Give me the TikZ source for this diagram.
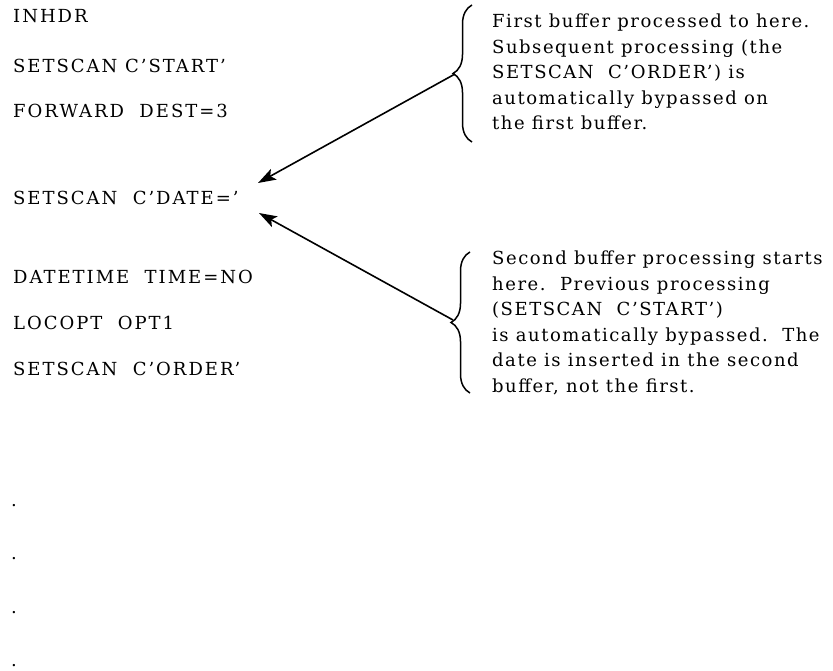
\documentclass[tikz,border=0pt]{standalone}
\usepackage{fontspec}
\setmainfont{DejaVu Serif}
\newfontfamily\codefont[LetterSpace=11]{DejaVu Serif}
\newfontfamily\notefont[LetterSpace=8.5]{DejaVu Serif}
\usetikzlibrary{arrows.meta,decorations.pathreplacing}

\begin{document}
\begin{tikzpicture}[x=1pt,y=-1pt,>={Stealth[length=18pt,width=12pt,inset=4pt]},
  code line/.style={anchor=base west,inner sep=0pt,font=\codefont\fontsize{18}{20}\selectfont},
  note text/.style={anchor=north west,align=left,inner sep=0pt,font=\notefont\fontsize{18}{25.5}\selectfont},
  curly/.style={decorate,decoration={brace,amplitude=19pt},line width=1.5pt}]

  \useasboundingbox (0,0) rectangle (833,671);

  % statements
  \node[code line] (inhdr) at (13,22.5) {INHDR};
  \node[code line] (start) at (13,72.5) {SETSCAN C’START’};
  \node[code line] (forward) at (13,117.5) {FORWARD\ \ DEST=3};
  \node[code line] (date) at (13,204.5) {SETSCAN\ \ C’DATE=’};
  \node[code line] (datetime) at (13,283.5) {DATETIME\ \ TIME=NO};
  \node[code line] (locopt) at (13,329.5) {LOCOPT\ \ OPT1};
  \node[code line] (order) at (13,375.5) {SETSCAN\ \ C’ORDER’};
  \foreach \y [count=\i] in {506,559,613,666}
    \node[code line] (dot\i) at (11,\y) {.};

  % notes
  \node[note text] (first) at (492,14) {First buffer processed to here.\\
    Subsequent processing (the\\SETSCAN\ \ C’ORDER’) is\\
    automatically bypassed on\\the first buffer.};
  \node[note text] (second) at (492,251) {Second buffer processing starts\\
    here.\ \ Previous processing\\(SETSCAN\ \ C’START’)\\
    is automatically bypassed.\ \ The\\date is inserted in the second\\
    buffer, not the first.};

  \draw[curly] (472,142) -- (472,5);
  \draw[curly] (470,393) -- (470,252);
  \coordinate (tip1) at (455,74);
  \coordinate (tip2) at (453,320);
  \coordinate (into1) at (258,183);
  \coordinate (into2) at (259,213);

  \draw[->,line width=1.6pt] (tip1) -- (into1);
  \draw[->,line width=1.6pt] (tip2) -- (into2);
\end{tikzpicture}
\end{document}
